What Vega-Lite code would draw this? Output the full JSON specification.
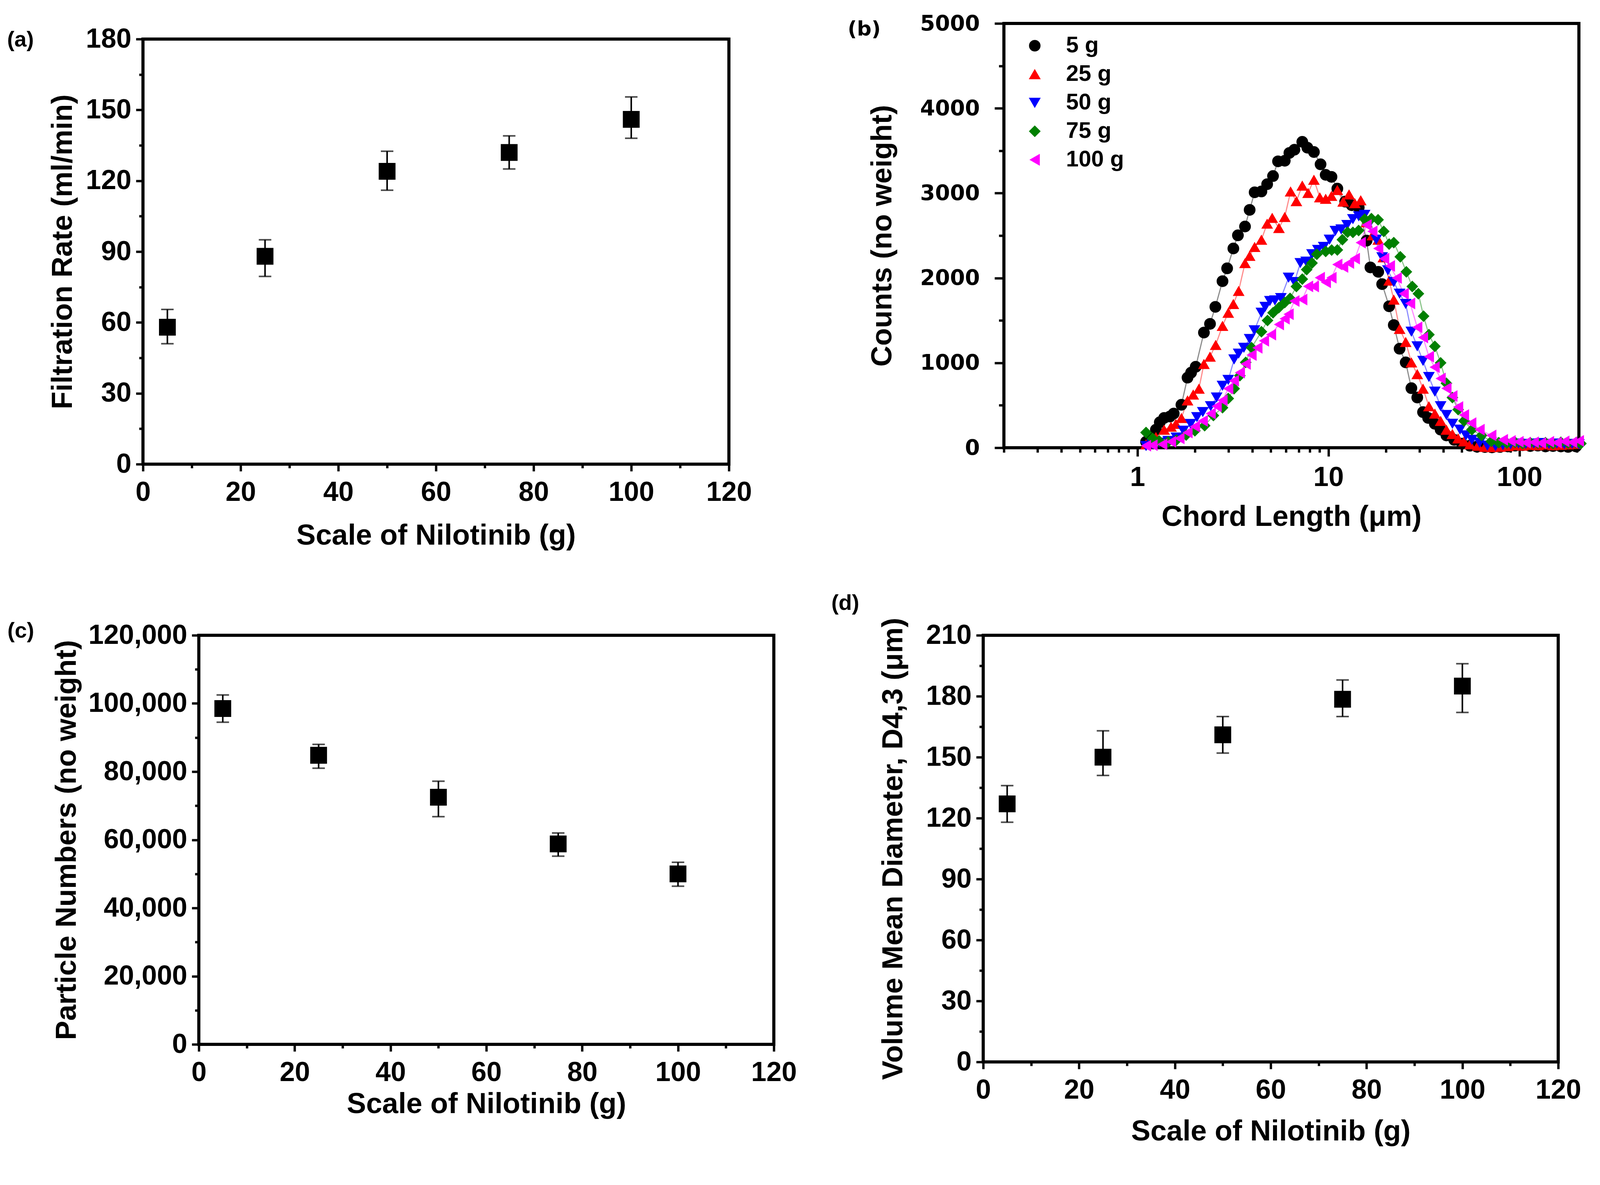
{
  "$schema": "https://vega.github.io/schema/vega-lite/v6.json",
  "background": "white",
  "padding": {"left": 13, "top": 29, "right": 0, "bottom": 0},
  "config": {
    "view": {"stroke": "black", "strokeWidth": 8},
    "axis": {
      "domain": false, "grid": false, "tickColor": "black", "tickWidth": 6,
      "labelFont": "Liberation Sans", "labelFontWeight": "bold", "labelFontSize": 70, "labelColor": "black",
      "labelFlush": false, "labelOverlap": false, "labelBound": false, "labelLimit": 1000,
      "titleFont": "Liberation Sans", "titleFontWeight": "bold", "titleFontSize": 74, "titleColor": "black"
    },
    "axisX": {"labelPadding": 20},
    "axisY": {"labelPadding": 12},
    "title": {"font": "Liberation Sans", "fontSize": 56, "fontWeight": "bold", "color": "black", "anchor": "start", "frame": "bounds", "offset": 4}
  },
  "spacing": 100,
  "resolve": {"legend": {"color": "independent", "shape": "independent"}},
  "vconcat": [
    {
      "spacing": 0,
      "resolve": {"legend": {"color": "independent", "shape": "independent"}},
      "hconcat": [
        {"width": 1, "height": 1, "view": {"stroke": null}, "data": {"values": []}, "mark": "point"},
        {
          "spacing": 237,
          "resolve": {"legend": {"color": "independent", "shape": "independent"}},
          "hconcat": [
            {
              "spacing": 0,
              "vconcat": [
                {"width": 1, "height": 1, "view": {"stroke": null}, "data": {"values": []}, "mark": "point"},
                {
                  "width": 1500, "height": 1088,
                  "title": {"text": "(a)", "dx": -106, "dy": 70},
                  "data": {"values": [
                    {"scale": 5, "val": 58, "lo": 51, "hi": 65.5},
                    {"scale": 25, "val": 88, "lo": 79.5, "hi": 95},
                    {"scale": 50, "val": 124, "lo": 116, "hi": 132.5},
                    {"scale": 75, "val": 132, "lo": 125, "hi": 139},
                    {"scale": 100, "val": 146, "lo": 138, "hi": 155.5}
                  ]},
                  "encoding": {
                    "x": {"field": "scale", "type": "quantitative", "scale": {"domain": [0, 120], "nice": false},
                      "axis": {"title": "Scale of Nilotinib (g)", "values": [0,10,20,30,40,50,60,70,80,90,100,110,120],
                        "labelExpr": "datum.value % 20 == 0 ? datum.label : ''",
                        "tickSize": {"condition": {"test": "datum.value % 20 == 0", "value": 18}, "value": 10},
                        "titlePadding": 40}}
                  },
                  "layer": [
                    {
                      "mark": {"type": "errorbar", "ticks": true, "thickness": 4, "size": 32, "color": "black"},
                      "encoding": {
                        "y": {"field": "lo", "type": "quantitative", "scale": {"domain": [0, 180], "nice": false},
                          "axis": {"title": "Filtration Rate (ml/min)", "values": [0,15,30,45,60,75,90,105,120,135,150,165,180],
                            "labelExpr": "datum.value % 30 == 0 ? datum.label : ''",
                            "tickSize": {"condition": {"test": "datum.value % 30 == 0", "value": 18}, "value": 10},
                            "titlePadding": 20}},
                        "y2": {"field": "hi"}
                      }
                    },
                    {
                      "mark": {"type": "point", "shape": "square", "filled": true, "size": 1850, "color": "black", "opacity": 1},
                      "encoding": {
                        "y": {"field": "val", "type": "quantitative", "scale": {"domain": [0, 180], "nice": false},
                          "axis": {"title": "Filtration Rate (ml/min)", "values": [0,15,30,45,60,75,90,105,120,135,150,165,180],
                            "labelExpr": "datum.value % 30 == 0 ? datum.label : ''",
                            "tickSize": {"condition": {"test": "datum.value % 30 == 0", "value": 18}, "value": 10},
                            "titlePadding": 20}}
                      }
                    }
                  ]
                }
              ]
            },
            {
              "width": 1472, "height": 1086,
              "title": {"text": "(b)", "dx": -52, "dy": 73, "font": "DejaVu Sans", "fontSize": 52},
              "data": {"values": [
                {"s":"5 g","x":1.11,"y":70},{"s":"5 g","x":1.18,"y":130},{"s":"5 g","x":1.25,"y":213},{"s":"5 g","x":1.31,"y":300},{"s":"5 g","x":1.38,"y":351},{"s":"5 g","x":1.48,"y":368},{"s":"5 g","x":1.55,"y":403},{"s":"5 g","x":1.7,"y":506},{"s":"5 g","x":1.83,"y":826},{"s":"5 g","x":1.91,"y":885},{"s":"5 g","x":2.02,"y":954},{"s":"5 g","x":2.23,"y":1357},{"s":"5 g","x":2.4,"y":1460},{"s":"5 g","x":2.56,"y":1660},{"s":"5 g","x":2.79,"y":1963},{"s":"5 g","x":2.95,"y":2114},{"s":"5 g","x":3.18,"y":2348},{"s":"5 g","x":3.36,"y":2503},{"s":"5 g","x":3.66,"y":2607},{"s":"5 g","x":3.87,"y":2803},{"s":"5 g","x":4.11,"y":3010},{"s":"5 g","x":4.46,"y":3020},{"s":"5 g","x":4.78,"y":3106},{"s":"5 g","x":5.13,"y":3202},{"s":"5 g","x":5.45,"y":3375},{"s":"5 g","x":5.91,"y":3382},{"s":"5 g","x":6.25,"y":3474},{"s":"5 g","x":6.64,"y":3512},{"s":"5 g","x":7.3,"y":3605},{"s":"5 g","x":7.76,"y":3536},{"s":"5 g","x":8.4,"y":3485},{"s":"5 g","x":9.1,"y":3340},{"s":"5 g","x":9.68,"y":3216},{"s":"5 g","x":10.38,"y":3192},{"s":"5 g","x":11.14,"y":3054},{"s":"5 g","x":12.24,"y":2900},{"s":"5 g","x":13.25,"y":2858},{"s":"5 g","x":14.42,"y":2831},{"s":"5 g","x":15.85,"y":2441},{"s":"5 g","x":16.6,"y":2125},{"s":"5 g","x":18.24,"y":2073},{"s":"5 g","x":19.12,"y":1928},{"s":"5 g","x":20.8,"y":1667},{"s":"5 g","x":22,"y":1446},{"s":"5 g","x":23.6,"y":1167},{"s":"5 g","x":25.4,"y":1006},{"s":"5 g","x":27.2,"y":702},{"s":"5 g","x":29.2,"y":592},{"s":"5 g","x":31.3,"y":420},{"s":"5 g","x":33.3,"y":351},{"s":"5 g","x":36.1,"y":282},{"s":"5 g","x":38.7,"y":213},{"s":"5 g","x":41.5,"y":145},{"s":"5 g","x":45.6,"y":93},{"s":"5 g","x":50.1,"y":48},{"s":"5 g","x":55.1,"y":24},{"s":"5 g","x":60,"y":12},{"s":"5 g","x":66,"y":8},{"s":"5 g","x":72,"y":5},{"s":"5 g","x":79,"y":10},{"s":"5 g","x":87,"y":15},{"s":"5 g","x":95,"y":25},{"s":"5 g","x":104,"y":30},{"s":"5 g","x":114,"y":20},{"s":"5 g","x":125,"y":25},{"s":"5 g","x":137,"y":15},{"s":"5 g","x":150,"y":20},{"s":"5 g","x":165,"y":15},{"s":"5 g","x":180,"y":10},{"s":"5 g","x":198,"y":15},
                {"s":"25 g","x":1.11,"y":40},{"s":"25 g","x":1.18,"y":80},{"s":"25 g","x":1.25,"y":127},{"s":"25 g","x":1.38,"y":213},{"s":"25 g","x":1.5,"y":248},{"s":"25 g","x":1.59,"y":282},{"s":"25 g","x":1.7,"y":351},{"s":"25 g","x":1.83,"y":558},{"s":"25 g","x":1.96,"y":627},{"s":"25 g","x":2.1,"y":696},{"s":"25 g","x":2.23,"y":988},{"s":"25 g","x":2.4,"y":1074},{"s":"25 g","x":2.57,"y":1212},{"s":"25 g","x":2.79,"y":1436},{"s":"25 g","x":2.99,"y":1591},{"s":"25 g","x":3.18,"y":1694},{"s":"25 g","x":3.39,"y":1849},{"s":"25 g","x":3.66,"y":2176},{"s":"25 g","x":3.87,"y":2262},{"s":"25 g","x":4.11,"y":2366},{"s":"25 g","x":4.46,"y":2452},{"s":"25 g","x":4.78,"y":2641},{"s":"25 g","x":5.08,"y":2710},{"s":"25 g","x":5.51,"y":2590},{"s":"25 g","x":5.91,"y":2720},{"s":"25 g","x":6.34,"y":3020},{"s":"25 g","x":6.8,"y":2906},{"s":"25 g","x":7.3,"y":3089},{"s":"25 g","x":7.83,"y":3003},{"s":"25 g","x":8.4,"y":3158},{"s":"25 g","x":9.02,"y":2951},{"s":"25 g","x":9.68,"y":2934},{"s":"25 g","x":10.38,"y":2968},{"s":"25 g","x":11.14,"y":3037},{"s":"25 g","x":11.95,"y":2900},{"s":"25 g","x":12.83,"y":2986},{"s":"25 g","x":13.76,"y":2882},{"s":"25 g","x":14.77,"y":2917},{"s":"25 g","x":15.85,"y":2658},{"s":"25 g","x":17,"y":2503},{"s":"25 g","x":18.24,"y":2452},{"s":"25 g","x":19.4,"y":2245},{"s":"25 g","x":20.8,"y":1970},{"s":"25 g","x":22,"y":1746},{"s":"25 g","x":23.6,"y":1401},{"s":"25 g","x":25.4,"y":1247},{"s":"25 g","x":27.2,"y":1006},{"s":"25 g","x":29.2,"y":868},{"s":"25 g","x":31.3,"y":696},{"s":"25 g","x":33.6,"y":489},{"s":"25 g","x":36.1,"y":403},{"s":"25 g","x":38.7,"y":317},{"s":"25 g","x":41.5,"y":213},{"s":"25 g","x":44.6,"y":162},{"s":"25 g","x":47.8,"y":110},{"s":"25 g","x":51.3,"y":76},{"s":"25 g","x":55.1,"y":41},{"s":"25 g","x":60.5,"y":24},{"s":"25 g","x":66,"y":10},{"s":"25 g","x":72,"y":8},{"s":"25 g","x":79,"y":12},{"s":"25 g","x":87,"y":20},{"s":"25 g","x":95,"y":30},{"s":"25 g","x":104,"y":25},{"s":"25 g","x":114,"y":35},{"s":"25 g","x":125,"y":30},{"s":"25 g","x":137,"y":40},{"s":"25 g","x":150,"y":30},{"s":"25 g","x":165,"y":35},{"s":"25 g","x":180,"y":40},{"s":"25 g","x":198,"y":45},
                {"s":"50 g","x":1.11,"y":20},{"s":"50 g","x":1.2,"y":40},{"s":"50 g","x":1.3,"y":60},{"s":"50 g","x":1.45,"y":80},{"s":"50 g","x":1.6,"y":120},{"s":"50 g","x":1.74,"y":200},{"s":"50 g","x":1.9,"y":280},{"s":"50 g","x":2.05,"y":360},{"s":"50 g","x":2.2,"y":420},{"s":"50 g","x":2.42,"y":489},{"s":"50 g","x":2.6,"y":592},{"s":"50 g","x":2.79,"y":730},{"s":"50 g","x":2.99,"y":799},{"s":"50 g","x":3.21,"y":1040},{"s":"50 g","x":3.39,"y":1109},{"s":"50 g","x":3.61,"y":1178},{"s":"50 g","x":3.87,"y":1281},{"s":"50 g","x":4.1,"y":1384},{"s":"50 g","x":4.46,"y":1591},{"s":"50 g","x":4.67,"y":1660},{"s":"50 g","x":4.94,"y":1729},{"s":"50 g","x":5.25,"y":1736},{"s":"50 g","x":5.64,"y":1763},{"s":"50 g","x":6.19,"y":2004},{"s":"50 g","x":6.64,"y":1952},{"s":"50 g","x":7.13,"y":2176},{"s":"50 g","x":7.65,"y":2193},{"s":"50 g","x":8.21,"y":2280},{"s":"50 g","x":8.81,"y":2331},{"s":"50 g","x":9.45,"y":2366},{"s":"50 g","x":10.14,"y":2452},{"s":"50 g","x":10.88,"y":2555},{"s":"50 g","x":11.67,"y":2572},{"s":"50 g","x":12.53,"y":2624},{"s":"50 g","x":13.44,"y":2693},{"s":"50 g","x":14.42,"y":2727},{"s":"50 g","x":15.48,"y":2744},{"s":"50 g","x":16.6,"y":2658},{"s":"50 g","x":17.8,"y":2452},{"s":"50 g","x":19.12,"y":2245},{"s":"50 g","x":20.5,"y":2090},{"s":"50 g","x":22,"y":1952},{"s":"50 g","x":23.6,"y":1815},{"s":"50 g","x":25.4,"y":1694},{"s":"50 g","x":27.2,"y":1367},{"s":"50 g","x":29.2,"y":1195},{"s":"50 g","x":31.3,"y":1023},{"s":"50 g","x":33.6,"y":833},{"s":"50 g","x":36.1,"y":661},{"s":"50 g","x":38.7,"y":489},{"s":"50 g","x":41.5,"y":386},{"s":"50 g","x":44.6,"y":282},{"s":"50 g","x":48.9,"y":213},{"s":"50 g","x":52.5,"y":145},{"s":"50 g","x":56.4,"y":93},{"s":"50 g","x":61.9,"y":59},{"s":"50 g","x":68,"y":24},{"s":"50 g","x":75,"y":20},{"s":"50 g","x":82,"y":30},{"s":"50 g","x":90,"y":40},{"s":"50 g","x":99,"y":50},{"s":"50 g","x":108,"y":45},{"s":"50 g","x":119,"y":50},{"s":"50 g","x":130,"y":55},{"s":"50 g","x":143,"y":45},{"s":"50 g","x":157,"y":50},{"s":"50 g","x":172,"y":40},{"s":"50 g","x":189,"y":45},{"s":"50 g","x":205,"y":40},
                {"s":"75 g","x":1.11,"y":180},{"s":"75 g","x":1.2,"y":110},{"s":"75 g","x":1.3,"y":80},{"s":"75 g","x":1.45,"y":70},{"s":"75 g","x":1.6,"y":90},{"s":"75 g","x":1.8,"y":150},{"s":"75 g","x":2,"y":200},{"s":"75 g","x":2.25,"y":260},{"s":"75 g","x":2.5,"y":380},{"s":"75 g","x":2.79,"y":472},{"s":"75 g","x":2.99,"y":580},{"s":"75 g","x":3.21,"y":696},{"s":"75 g","x":3.44,"y":850},{"s":"75 g","x":3.69,"y":1006},{"s":"75 g","x":3.96,"y":1180},{"s":"75 g","x":4.46,"y":1367},{"s":"75 g","x":4.8,"y":1500},{"s":"75 g","x":5.13,"y":1591},{"s":"75 g","x":5.5,"y":1650},{"s":"75 g","x":5.91,"y":1711},{"s":"75 g","x":6.3,"y":1760},{"s":"75 g","x":6.8,"y":1900},{"s":"75 g","x":7.3,"y":1987},{"s":"75 g","x":7.7,"y":2100},{"s":"75 g","x":8.21,"y":2176},{"s":"75 g","x":8.7,"y":2280},{"s":"75 g","x":9.68,"y":2314},{"s":"75 g","x":10.4,"y":2330},{"s":"75 g","x":11.14,"y":2331},{"s":"75 g","x":11.84,"y":2452},{"s":"75 g","x":12.6,"y":2540},{"s":"75 g","x":13.44,"y":2538},{"s":"75 g","x":14.4,"y":2560},{"s":"75 g","x":15.5,"y":2693},{"s":"75 g","x":16.8,"y":2700},{"s":"75 g","x":18.2,"y":2686},{"s":"75 g","x":19.5,"y":2550},{"s":"75 g","x":20.8,"y":2400},{"s":"75 g","x":22,"y":2417},{"s":"75 g","x":23.8,"y":2250},{"s":"75 g","x":25.6,"y":2073},{"s":"75 g","x":27.5,"y":1900},{"s":"75 g","x":29.6,"y":1815},{"s":"75 g","x":31.5,"y":1550},{"s":"75 g","x":33.6,"y":1333},{"s":"75 g","x":36.1,"y":1195},{"s":"75 g","x":38.7,"y":1000},{"s":"75 g","x":41.5,"y":760},{"s":"75 g","x":44.6,"y":592},{"s":"75 g","x":47.8,"y":450},{"s":"75 g","x":51.3,"y":317},{"s":"75 g","x":56.4,"y":213},{"s":"75 g","x":63.4,"y":145},{"s":"75 g","x":71.3,"y":76},{"s":"75 g","x":78,"y":60},{"s":"75 g","x":86,"y":55},{"s":"75 g","x":95,"y":65},{"s":"75 g","x":104,"y":50},{"s":"75 g","x":114,"y":60},{"s":"75 g","x":125,"y":55},{"s":"75 g","x":137,"y":60},{"s":"75 g","x":150,"y":50},{"s":"75 g","x":165,"y":65},{"s":"75 g","x":180,"y":55},{"s":"75 g","x":198,"y":60},{"s":"75 g","x":210,"y":50},
                {"s":"100 g","x":1.11,"y":24},{"s":"100 g","x":1.2,"y":30},{"s":"100 g","x":1.35,"y":40},{"s":"100 g","x":1.5,"y":70},{"s":"100 g","x":1.66,"y":110},{"s":"100 g","x":1.83,"y":179},{"s":"100 g","x":2,"y":250},{"s":"100 g","x":2.2,"y":317},{"s":"100 g","x":2.42,"y":403},{"s":"100 g","x":2.6,"y":489},{"s":"100 g","x":2.79,"y":558},{"s":"100 g","x":2.99,"y":696},{"s":"100 g","x":3.2,"y":790},{"s":"100 g","x":3.44,"y":885},{"s":"100 g","x":3.69,"y":988},{"s":"100 g","x":3.96,"y":1092},{"s":"100 g","x":4.25,"y":1178},{"s":"100 g","x":4.6,"y":1260},{"s":"100 g","x":5.01,"y":1333},{"s":"100 g","x":5.51,"y":1453},{"s":"100 g","x":5.9,"y":1520},{"s":"100 g","x":6.19,"y":1574},{"s":"100 g","x":6.64,"y":1729},{"s":"100 g","x":7.3,"y":1746},{"s":"100 g","x":7.83,"y":1901},{"s":"100 g","x":8.4,"y":1900},{"s":"100 g","x":9.02,"y":2004},{"s":"100 g","x":9.7,"y":1950},{"s":"100 g","x":10.38,"y":2004},{"s":"100 g","x":11.14,"y":2159},{"s":"100 g","x":11.95,"y":2130},{"s":"100 g","x":12.83,"y":2176},{"s":"100 g","x":13.76,"y":2228},{"s":"100 g","x":14.77,"y":2417},{"s":"100 g","x":15.85,"y":2624},{"s":"100 g","x":17,"y":2550},{"s":"100 g","x":18.24,"y":2348},{"s":"100 g","x":19.6,"y":2228},{"s":"100 g","x":21,"y":2142},{"s":"100 g","x":22.8,"y":2000},{"s":"100 g","x":24.8,"y":1815},{"s":"100 g","x":26.8,"y":1700},{"s":"100 g","x":29.2,"y":1419},{"s":"100 g","x":31.3,"y":1300},{"s":"100 g","x":33.6,"y":1074},{"s":"100 g","x":36,"y":950},{"s":"100 g","x":38.7,"y":816},{"s":"100 g","x":41.5,"y":700},{"s":"100 g","x":44.6,"y":609},{"s":"100 g","x":47.8,"y":480},{"s":"100 g","x":51.3,"y":386},{"s":"100 g","x":56,"y":290},{"s":"100 g","x":61.9,"y":213},{"s":"100 g","x":71.3,"y":145},{"s":"100 g","x":82,"y":93},{"s":"100 g","x":90,"y":80},{"s":"100 g","x":99,"y":70},{"s":"100 g","x":108,"y":60},{"s":"100 g","x":119,"y":65},{"s":"100 g","x":130,"y":55},{"s":"100 g","x":143,"y":70},{"s":"100 g","x":157,"y":60},{"s":"100 g","x":172,"y":75},{"s":"100 g","x":189,"y":65},{"s":"100 g","x":205,"y":80}
              ]},
              "encoding": {
                "x": {"field": "x", "type": "quantitative", "scale": {"type": "log", "domain": [0.2, 205], "nice": false},
                  "axis": {"title": "Chord Length (μm)", "format": "d",
                    "values": [0.2,0.3,0.4,0.5,0.6,0.7,0.8,0.9,1,2,3,4,5,6,7,8,9,10,20,30,40,50,60,70,80,90,100,200],
                    "labelExpr": "datum.value == 1 || datum.value == 10 || datum.value == 100 ? datum.label : ''",
                    "tickSize": {"condition": {"test": "datum.value == 1 || datum.value == 10 || datum.value == 100", "value": 22}, "value": 12},
                    "titlePadding": 30}},
                "y": {"field": "y", "type": "quantitative", "scale": {"domain": [0, 5000], "nice": false},
                  "axis": {"title": "Counts (no weight)", "format": "d",
                    "values": [0,500,1000,1500,2000,2500,3000,3500,4000,4500,5000],
                    "labelExpr": "datum.value % 1000 == 0 ? datum.label : ''",
                    "labelFont": "DejaVu Sans", "labelFontSize": 55, "labelPadding": 38,
                    "tickSize": {"condition": {"test": "datum.value % 1000 == 0", "value": 24}, "value": 13},
                    "titlePadding": 73}},
                "color": {"field": "s", "type": "nominal",
                  "scale": {"domain": ["5 g", "25 g", "50 g", "75 g", "100 g"], "range": ["#000000", "#ff0000", "#0000ff", "#008000", "#ff00ff"]},
                  "legend": {
                    "title": null, "orient": "top-left", "offset": 0, "padding": 28,
                    "symbolSize": 784, "symbolOffset": 22, "labelOffset": 51, "rowPadding": 15,
                    "labelFont": "Liberation Sans", "labelFontWeight": "bold", "labelFontSize": 58, "labelColor": "black"
                  }}
              },
              "layer": [
                {"mark": {"type": "line", "strokeWidth": 3, "strokeOpacity": 0.45}},
                {
                  "mark": {"type": "point", "filled": true, "size": 900, "opacity": 1},
                  "encoding": {
                    "shape": {"field": "s", "type": "nominal",
                      "scale": {"domain": ["5 g", "25 g", "50 g", "75 g", "100 g"], "range": ["circle", "triangle-up", "triangle-down", "diamond", "triangle-left"]},
                      "legend": {
                        "title": null, "orient": "top-left", "offset": 0, "padding": 28,
                        "symbolSize": 784, "symbolOffset": 22, "labelOffset": 51, "rowPadding": 15,
                        "labelFont": "Liberation Sans", "labelFontWeight": "bold", "labelFontSize": 58, "labelColor": "black"
                      }}
                  }
                }
              ]
            }
          ]
        }
      ]
    },
    {
      "spacing": 0,
      "hconcat": [
        {"width": 1, "height": 1, "view": {"stroke": null}, "data": {"values": []}, "mark": "point"},
        {
          "spacing": 80,
          "hconcat": [
            {
              "width": 1472, "height": 1047,
              "title": {"text": "(c)", "dx": -115, "dy": 57},
              "data": {"values": [
                {"scale": 5, "val": 98500, "lo": 94500, "hi": 102500},
                {"scale": 25, "val": 84800, "lo": 81000, "hi": 88000},
                {"scale": 50, "val": 72500, "lo": 66800, "hi": 77200},
                {"scale": 75, "val": 58800, "lo": 55200, "hi": 62000},
                {"scale": 100, "val": 50000, "lo": 46400, "hi": 53400}
              ]},
              "encoding": {
                "x": {"field": "scale", "type": "quantitative", "scale": {"domain": [0, 120], "nice": false},
                  "axis": {"title": "Scale of Nilotinib (g)", "values": [0,10,20,30,40,50,60,70,80,90,100,110,120],
                    "labelExpr": "datum.value % 20 == 0 ? datum.label : ''",
                    "tickSize": {"condition": {"test": "datum.value % 20 == 0", "value": 18}, "value": 10},
                    "titlePadding": 10}}
              },
              "layer": [
                {
                  "mark": {"type": "errorbar", "ticks": true, "thickness": 4, "size": 32, "color": "black"},
                  "encoding": {
                    "y": {"field": "lo", "type": "quantitative", "scale": {"domain": [0, 120000], "nice": false},
                      "axis": {"title": "Particle Numbers (no weight)", "format": ",d",
                        "values": [0,10000,20000,30000,40000,50000,60000,70000,80000,90000,100000,110000,120000],
                        "labelExpr": "datum.value % 20000 == 0 ? datum.label : ''",
                        "tickSize": {"condition": {"test": "datum.value % 20000 == 0", "value": 18}, "value": 10},
                        "titlePadding": 100}},
                    "y2": {"field": "hi"}
                  }
                },
                {
                  "mark": {"type": "point", "shape": "square", "filled": true, "size": 1850, "color": "black", "opacity": 1},
                  "encoding": {
                    "y": {"field": "val", "type": "quantitative", "scale": {"domain": [0, 120000], "nice": false},
                      "axis": {"title": "Particle Numbers (no weight)", "format": ",d",
                        "values": [0,10000,20000,30000,40000,50000,60000,70000,80000,90000,100000,110000,120000],
                        "labelExpr": "datum.value % 20000 == 0 ? datum.label : ''",
                        "tickSize": {"condition": {"test": "datum.value % 20000 == 0", "value": 18}, "value": 10},
                        "titlePadding": 100}}
                  }
                }
              ]
            },
            {
              "width": 1472, "height": 1092,
              "title": {"text": "(d)", "dx": -122, "dy": -3},
              "data": {"values": [
                {"scale": 5, "val": 127, "lo": 118, "hi": 136},
                {"scale": 25, "val": 150, "lo": 141, "hi": 163},
                {"scale": 50, "val": 161, "lo": 152, "hi": 170},
                {"scale": 75, "val": 178.5, "lo": 170, "hi": 188},
                {"scale": 100, "val": 185, "lo": 172, "hi": 196}
              ]},
              "encoding": {
                "x": {"field": "scale", "type": "quantitative", "scale": {"domain": [0, 120], "nice": false},
                  "axis": {"title": "Scale of Nilotinib (g)", "values": [0,10,20,30,40,50,60,70,80,90,100,110,120],
                    "labelExpr": "datum.value % 20 == 0 ? datum.label : ''",
                    "tickSize": {"condition": {"test": "datum.value % 20 == 0", "value": 18}, "value": 10},
                    "titlePadding": 35}}
              },
              "layer": [
                {
                  "mark": {"type": "errorbar", "ticks": true, "thickness": 4, "size": 32, "color": "black"},
                  "encoding": {
                    "y": {"field": "lo", "type": "quantitative", "scale": {"domain": [0, 210], "nice": false},
                      "axis": {"title": "Volume Mean Diameter, D4,3 (μm)",
                        "values": [0,15,30,45,60,75,90,105,120,135,150,165,180,195,210],
                        "labelExpr": "datum.value % 30 == 0 ? datum.label : ''",
                        "tickSize": {"condition": {"test": "datum.value % 30 == 0", "value": 18}, "value": 10},
                        "titlePadding": 45}},
                    "y2": {"field": "hi"}
                  }
                },
                {
                  "mark": {"type": "point", "shape": "square", "filled": true, "size": 1850, "color": "black", "opacity": 1},
                  "encoding": {
                    "y": {"field": "val", "type": "quantitative", "scale": {"domain": [0, 210], "nice": false},
                      "axis": {"title": "Volume Mean Diameter, D4,3 (μm)",
                        "values": [0,15,30,45,60,75,90,105,120,135,150,165,180,195,210],
                        "labelExpr": "datum.value % 30 == 0 ? datum.label : ''",
                        "tickSize": {"condition": {"test": "datum.value % 30 == 0", "value": 18}, "value": 10},
                        "titlePadding": 45}}
                  }
                }
              ]
            }
          ]
        }
      ]
    }
  ]
}
